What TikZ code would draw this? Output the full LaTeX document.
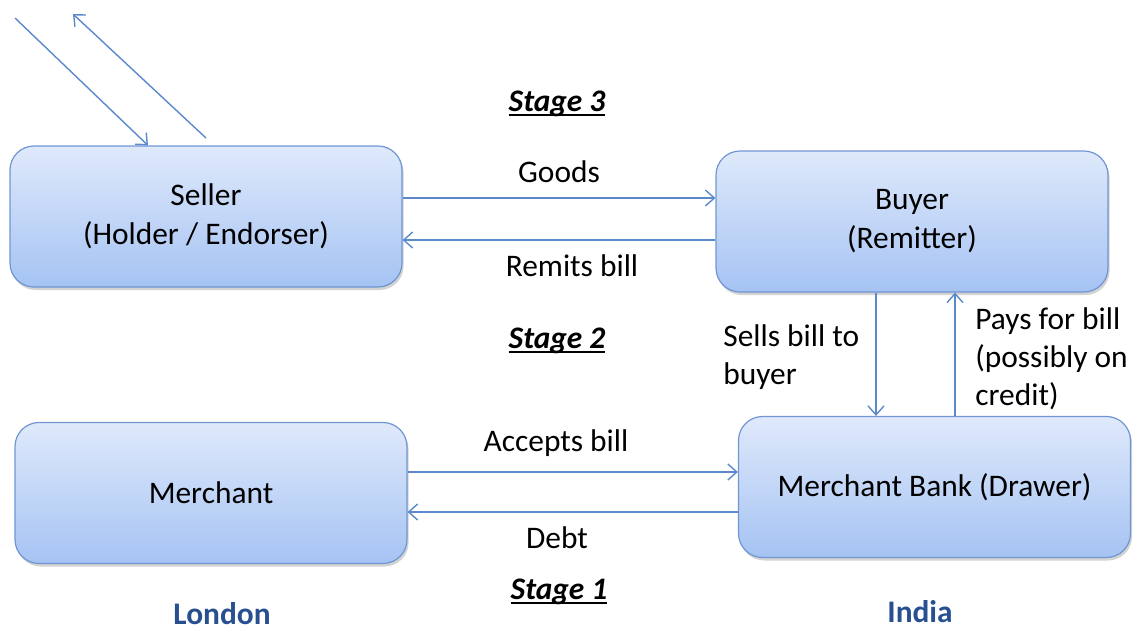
\documentclass[tikz,border=0pt]{standalone}
\usepackage{fontspec}
\setmainfont{Carlito}
\usetikzlibrary{arrows.meta,shadows}
\definecolor{lineblue}{RGB}{91,137,204}
\definecolor{boxtop}{RGB}{223,233,251}
\definecolor{boxbot}{RGB}{165,195,243}
\definecolor{boxedge}{RGB}{112,150,210}
\definecolor{placeblue}{RGB}{40,80,145}
\newcommand{\stageul}[1]{\setbox0\hbox{#1}\leavevmode\rlap{\rule[-2.6pt]{\wd0}{1.1pt}}\box0}
\tikzset{
  party/.style={draw=boxedge, line width=0.6pt, rounded corners=12pt,
    top color=boxtop, bottom color=boxbot, minimum width=196pt, minimum height=70.5pt,
    inner sep=0pt, align=center, font=\fontsize{15.7}{19.5}\selectfont,
    drop shadow={opacity=0.35, shadow xshift=0.8pt, shadow yshift=-1.5pt}},
  arr/.style={draw=lineblue, line width=0.7pt, -{Straight Barb[length=4.5pt,width=8pt]}},
  lbl/.style={font=\fontsize{15.7}{19}\selectfont, inner sep=0pt},
  stage/.style={font=\fontsize{15.7}{19}\selectfont\bfseries\itshape, inner sep=0pt, anchor=base},
  place/.style={font=\fontsize{15.7}{19}\selectfont\bfseries, text=placeblue, inner sep=0pt}
}
\begin{document}
\begin{tikzpicture}[x=0.5pt,y=-0.5pt]
\useasboundingbox (0,0) rectangle (1135,629);
\node[party] (seller) at (206,216.5) {Seller\\(Holder / Endorser)};
\node[party] (buyer) at (912,221.5) {Buyer\\(Remitter)};
\node[party] (merchant) at (211,493) {Merchant};
\node[party] (bank) at (934.5,487) {Merchant Bank (Drawer)};

\coordinate (g) at ([yshift=9.25pt]seller.east);
\draw[arr] (g) -- (g -| buyer.west);
\coordinate (r) at ([yshift=-9.25pt]buyer.west);
\draw[arr] (r) -- (r -| seller.east);

\coordinate (a) at ([yshift=10.5pt]merchant.east);
\draw[arr] (a) -- (a -| bank.west);
\coordinate (d) at ([yshift=-12.5pt]bank.west);
\draw[arr] (d) -- (d -| merchant.east);

\coordinate (s) at ([xshift=-18pt]buyer.south);
\draw[arr] (s) -- (s |- bank.north);
\coordinate (p) at ([xshift=10.25pt]bank.north);
\draw[arr] (p) -- (p |- buyer.south);

\coordinate (in1) at (15,18);
\draw[arr] (in1) -- ([xshift=-29pt]seller.north);
\coordinate (out1) at (206,138);
\coordinate (out2) at (73,14);
\draw[arr] (out1) -- (out2);

\node[stage] (st3) at (557,111) {\stageul{Stage 3}};
\node[stage] (st2) at (557,348) {\stageul{Stage 2}};
\node[stage] (st1) at (559,599) {\stageul{Stage 1}};

\node[lbl] (lgoods) at (559,172) {Goods};
\node[lbl] (lremit) at (572,266) {Remits bill};
\node[lbl] (laccept) at (556,443) {Accepts bill};
\node[lbl] (ldebt) at (557,538) {Debt};
\node[lbl, anchor=west, align=left] (lsells) at (723,357) {Sells bill to\\buyer};
\node[lbl, anchor=west, align=left] (lpays) at (975,358.5) {Pays for bill\\(possibly on\\credit)};

\node[place] (london) at (222,614) {London};
\node[place] (india) at (920,612) {India};
\end{tikzpicture}
\end{document}
